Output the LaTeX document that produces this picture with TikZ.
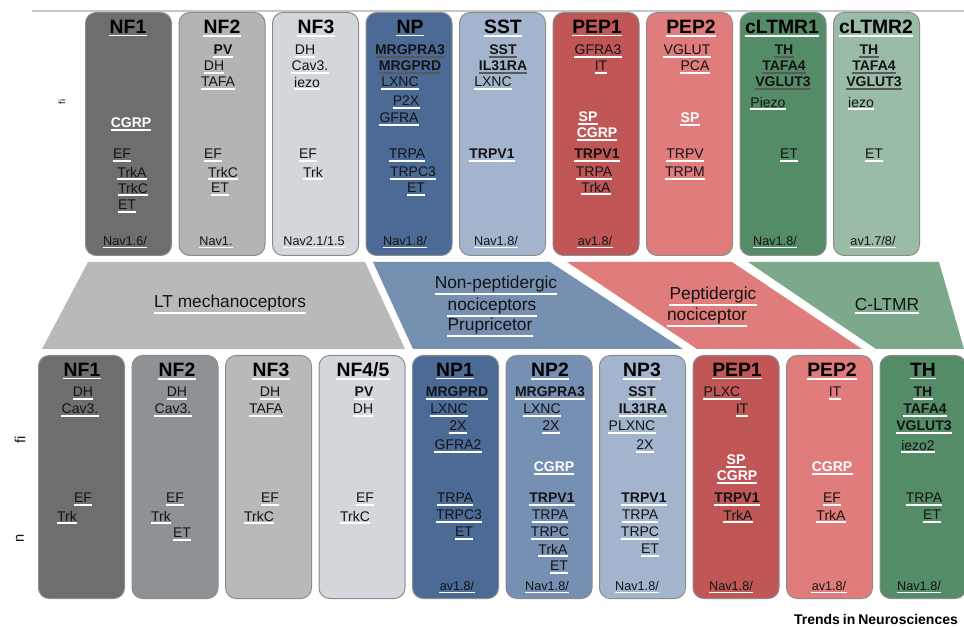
\documentclass[tikz,border=0pt]{standalone}
\usepackage{fontspec}
\setmainfont{Liberation Sans}
\definecolor{cellborder}{HTML}{8C8C8C}
\definecolor{txt}{HTML}{141414}
\definecolor{cNFa}{HTML}{6E6E6E}
\definecolor{cNFb}{HTML}{B4B4B4}
\definecolor{cNFc}{HTML}{D3D6DA}
\definecolor{cNFd}{HTML}{8E9295}
\definecolor{cNFe}{HTML}{B9B9B9}
\definecolor{cNP}{HTML}{4B6B96}
\definecolor{cNPb}{HTML}{7590B2}
\definecolor{cSST}{HTML}{A3B5CD}
\definecolor{cPEPa}{HTML}{C05656}
\definecolor{cPEPb}{HTML}{E07C7C}
\definecolor{cCLa}{HTML}{558C68}
\definecolor{cCLb}{HTML}{9ABBA6}
\definecolor{bandgray}{HTML}{B9B9B9}
\definecolor{bandblue}{HTML}{7590B0}
\definecolor{bandred}{HTML}{E07C7C}
\definecolor{bandgreen}{HTML}{7CA88C}
\newcommand{\gene}[5][gn]{\node[#1] (#2) at (#3,#4) {#5};}
\begin{document}
\begin{tikzpicture}[x=0.75pt,y=-0.75pt,
  cell/.style={draw=cellborder, line width=0.75pt, rounded corners=8pt, minimum width=64.5pt, minimum height=182.25pt, anchor=north west, inner sep=0pt},
  ul/.style={append after command={([yshift=-1.3pt]\tikzlastnode.south west) edge[draw=#1,line width=1.2pt] ([yshift=-1.3pt]\tikzlastnode.south east)}},
  ttl/.style={font=\fontsize{14.5}{16}\selectfont\bfseries, inner sep=0pt, text=black, ul=white},
  gn/.style={font=\fontsize{10.5}{12}\selectfont, inner sep=0pt, text=txt, ul=white},
  gb/.style={font=\fontsize{10.5}{12}\selectfont\bfseries, inner sep=0pt, text=txt, ul=white},
  gbk/.style={font=\fontsize{10.5}{12}\selectfont\bfseries, inner sep=0pt, text=txt, ul=black!65},
  gw/.style={font=\fontsize{10.5}{12}\selectfont\bfseries, inner sep=0pt, text=white, ul=white},
  nav/.style={font=\fontsize{9.5}{11}\selectfont, inner sep=0pt, text=txt, ul=white},
  band/.style={font=\fontsize{13}{15}\selectfont, inner sep=0pt, text=txt, ul=white},
  side/.style={font=\fontsize{11}{12}\selectfont, inner sep=0pt, text=txt, rotate=90}
]
\useasboundingbox (0,0) rectangle (964,627);
\fill[white] (0,0) rectangle (964,627);
% top rule
\draw[black!22, line width=0.8pt] (32,11) -- (964,11);
\node[side, font=\fontsize{7}{8}\selectfont] (sidetop) at (62,102) {fi};
\node[side] (sidefi) at (20,440) {fi};
\node[side] (siden) at (20,538) {n};

% ---------------- top row cells
\node[cell, fill=cNFa]  (tc1) at (85,12) {};
\node[cell, fill=cNFb]  (tc2) at (178.5,12) {};
\node[cell, fill=cNFc]  (tc3) at (272,12) {};
\node[cell, fill=cNP]   (tc4) at (365.5,12) {};
\node[cell, fill=cSST]  (tc5) at (459,12) {};
\node[cell, fill=cPEPa] (tc6) at (552.5,12) {};
\node[cell, fill=cPEPb] (tc7) at (646,12) {};
\node[cell, fill=cCLa]  (tc8) at (739.5,12) {};
\node[cell, fill=cCLb]  (tc9) at (833,12) {};

% titles
\gene[ttl]{tt1}{128}{27}{NF1}
\gene[ttl]{tt2}{222}{27}{NF2}
\gene[ttl]{tt3}{316}{27}{NF3}
\gene[ttl]{tt4}{410}{27}{NP}
\gene[ttl]{tt5}{503}{27}{SST}
\gene[ttl]{tt6}{597}{27}{PEP1}
\gene[ttl]{tt7}{691}{27}{PEP2}
\gene[ttl]{tt8}{782}{27}{cLTMR1}
\gene[ttl]{tt9}{876}{27}{cLTMR2}

% NF1 top
\gene[gw]{t1a}{131}{123}{CGRP}
\gene{t1b}{122}{154}{EF}
\gene{t1c}{132}{172}{TrkA}
\gene{t1d}{133}{188}{TrkC}
\gene{t1e}{127}{205}{ET}
\gene[nav]{t1n}{125}{241}{Nav1.6/}
% NF2 top
\gene[gb]{t2a}{223}{50}{PV}
\gene{t2b}{214}{66}{DH}
\gene{t2c}{218}{82}{TAFA}
\gene{t2d}{213}{154}{EF}
\gene{t2e}{223}{172}{TrkC}
\gene{t2f}{220}{188}{ET}
\gene[nav]{t2n}{216}{241}{Nav1.}
% NF3 top
\gene{t3a}{305}{50}{DH}
\gene{t3b}{310}{66}{Cav3.}
\gene{t3c}{307}{82}{iezo}
\gene{t3d}{308}{154}{EF}
\gene{t3e}{313}{172}{Trk}
\gene[nav]{t3n}{314}{241}{Nav2.1/1.5}
% NP top
\gene[gbk]{t4a}{410}{50}{MRGPRA3}
\gene[gbk]{t4b}{410}{66}{MRGPRD}
\gene{t4c}{400}{82}{LXNC}
\gene{t4d}{406}{101}{P2X}
\gene{t4e}{399}{118}{GFRA}
\gene{t4f}{407}{154}{TRPA}
\gene{t4g}{413}{172}{TRPC3}
\gene{t4h}{416}{188}{ET}
\gene[nav]{t4n}{405}{241}{Nav1.8/}
% SST top
\gene[gbk]{t5a}{503}{50}{SST}
\gene[gbk]{t5b}{503}{66}{IL31RA}
\gene{t5c}{493}{82}{LXNC}
\gene[gb]{t5d}{492}{154}{TRPV1}
\gene[nav]{t5n}{496}{241}{Nav1.8/}
% PEP1 top
\gene{t6a}{598}{50}{GFRA3}
\gene{t6b}{601}{66}{IT}
\gene[gw]{t6c}{588}{117}{SP}
\gene[gw]{t6d}{597}{133}{CGRP}
\gene[gb]{t6e}{597}{154}{TRPV1}
\gene{t6f}{594}{172}{TRPA}
\gene{t6g}{596}{187}{TrkA}
\gene[nav]{t6n}{595}{241}{av1.8/}
% PEP2 top
\gene{t7a}{687}{50}{VGLUT}
\gene{t7b}{695}{66}{PCA}
\gene[gw]{t7c}{690}{118}{SP}
\gene{t7d}{685}{154}{TRPV}
\gene{t7e}{685}{172}{TRPM}
% cLTMR1 top
\gene[gbk]{t8a}{784}{50}{TH}
\gene[gbk]{t8b}{784}{66}{TAFA4}
\gene[gbk]{t8c}{783}{82}{VGLUT3}
\gene{t8d}{768}{102}{Piezo}
\gene{t8e}{789}{154}{ET}
\gene[nav]{t8n}{775}{241}{Nav1.8/}
% cLTMR2 top
\gene[gbk]{t9a}{869}{50}{TH}
\gene[gbk]{t9b}{874}{66}{TAFA4}
\gene[gbk]{t9c}{874}{82}{VGLUT3}
\gene{t9d}{861}{102}{iezo}
\gene{t9e}{874}{154}{ET}
\gene[nav]{t9n}{873}{241}{av1.7/8/}

% ---------------- middle band
\fill[bandgray]  (88,262) -- (365,262) -- (405,349) -- (42,349) -- cycle;
\fill[bandblue]  (373,262) -- (550,262) -- (683,349) -- (413,349) -- cycle;
\fill[bandred]   (567,262) -- (732,262) -- (862,349) -- (697,349) -- cycle;
\fill[bandgreen] (748,262) -- (939,262) -- (964,349) -- (876,349) -- cycle;
\gene[band]{b1}{230}{303}{LT mechanoceptors}
\gene[band]{b2a}{496}{284}{Non-peptidergic}
\gene[band]{b2b}{492}{306}{nociceptors}
\gene[band]{b2c}{490}{326}{Prupricetor}
\gene[band]{b3a}{713}{295}{Peptidergic}
\gene[band]{b3b}{707}{316}{nociceptor}
\gene[band]{b4}{887}{305}{C-LTMR}

% ---------------- bottom row cells
\node[cell, fill=cNFa]  (bc1) at (38,355) {};
\node[cell, fill=cNFd]  (bc2) at (131.5,355) {};
\node[cell, fill=cNFe]  (bc3) at (225,355) {};
\node[cell, fill=cNFc]  (bc4) at (318.5,355) {};
\node[cell, fill=cNP]   (bc5) at (412,355) {};
\node[cell, fill=cNPb]  (bc6) at (505.5,355) {};
\node[cell, fill=cSST]  (bc7) at (599,355) {};
\node[cell, fill=cPEPa] (bc8) at (692.5,355) {};
\node[cell, fill=cPEPb] (bc9) at (786,355) {};
\node[cell, fill=cCLa]  (bc10) at (879.5,355) {};

\gene[ttl]{bt1}{82}{370}{NF1}
\gene[ttl]{bt2}{177}{370}{NF2}
\gene[ttl]{bt3}{271}{370}{NF3}
\gene[ttl]{bt4}{363}{370}{NF4/5}
\gene[ttl]{bt5}{455}{370}{NP1}
\gene[ttl]{bt6}{550}{370}{NP2}
\gene[ttl]{bt7}{642}{370}{NP3}
\gene[ttl]{bt8}{737}{370}{PEP1}
\gene[ttl]{bt9}{832}{370}{PEP2}
\gene[ttl]{bt10}{923}{370}{TH}

% NF1 bottom
\gene{u1a}{83}{392}{DH}
\gene{u1b}{80}{409}{Cav3.}
\gene{u1c}{83}{498}{EF}
\gene{u1d}{67}{516}{Trk}
% NF2 bottom
\gene{u2a}{177}{392}{DH}
\gene{u2b}{173}{409}{Cav3.}
\gene{u2c}{175}{498}{EF}
\gene{u2d}{161}{516}{Trk}
\gene{u2e}{182}{533}{ET}
% NF3 bottom
\gene{u3a}{270}{392}{DH}
\gene{u3b}{266}{409}{TAFA}
\gene{u3c}{270}{498}{EF}
\gene{u3d}{259}{516}{TrkC}
% NF4/5 bottom
\gene[gb]{u4a}{364}{392}{PV}
\gene{u4b}{363}{409}{DH}
\gene{u4c}{365}{498}{EF}
\gene{u4d}{355}{516}{TrkC}
% NP1 bottom
\gene[gb]{u5a}{457}{392}{MRGPRD}
\gene{u5b}{449}{409}{LXNC}
\gene{u5c}{458}{426}{2X}
\gene{u5d}{458}{445}{GFRA2}
\gene{u5e}{455}{498}{TRPA}
\gene{u5f}{459}{515}{TRPC3}
\gene{u5g}{464}{532}{ET}
\gene[nav]{u5n}{457}{586}{av1.8/}
% NP2 bottom
\gene[gb]{u6a}{550}{392}{MRGPRA3}
\gene{u6b}{542}{409}{LXNC}
\gene{u6c}{551}{426}{2X}
\gene[gw]{u6d}{554}{467}{CGRP}
\gene[gb]{u6e}{552}{498}{TRPV1}
\gene{u6f}{550}{515}{TRPA}
\gene{u6g}{550}{532}{TRPC}
\gene{u6h}{553}{549}{TrkA}
\gene{u6i}{559}{566}{ET}
\gene[nav]{u6n}{547}{586}{Nav1.8/}
% NP3 bottom
\gene[gb]{u7a}{642}{392}{SST}
\gene[gb]{u7b}{643}{409}{IL31RA}
\gene{u7c}{632}{426}{PLXNC}
\gene{u7d}{645}{445}{2X}
\gene[gb]{u7e}{644}{498}{TRPV1}
\gene{u7f}{640}{515}{TRPA}
\gene{u7g}{640}{532}{TRPC}
\gene{u7h}{650}{549}{ET}
\gene[nav]{u7n}{637}{586}{Nav1.8/}
% PEP1 bottom
\gene{u8a}{722}{392}{PLXC}
\gene{u8b}{742}{409}{IT}
\gene[gw]{u8c}{736}{460}{SP}
\gene[gw]{u8d}{737}{476}{CGRP}
\gene[gb]{u8e}{737}{498}{TRPV1}
\gene{u8f}{738}{515}{TrkA}
\gene[nav]{u8n}{731}{586}{Nav1.8/}
% PEP2 bottom
\gene{u9a}{835}{392}{IT}
\gene[gw]{u9b}{832}{467}{CGRP}
\gene{u9c}{832}{498}{EF}
\gene{u9d}{831}{515}{TrkA}
\gene[nav]{u9n}{829}{586}{av1.8/}
% TH bottom
\gene[gb]{u10a}{923}{392}{TH}
\gene[gb]{u10b}{925}{409}{TAFA4}
\gene[gb]{u10c}{924}{426}{VGLUT3}
\gene{u10d}{918}{445}{iezo2}
\gene{u10e}{924}{498}{TRPA}
\gene{u10f}{932}{515}{ET}
\gene[nav]{u10n}{919}{586}{Nav1.8/}

% journal mark
\node[font=\fontsize{10.5}{12}\selectfont\bfseries, inner sep=0pt, text=black] (journal) at (876,619) {Trends\kern2.2pt in\kern2.2pt Neurosciences};
\end{tikzpicture}
\end{document}
